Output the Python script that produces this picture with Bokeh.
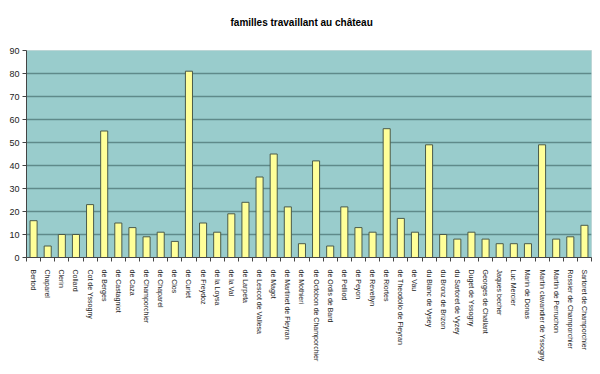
from bokeh.plotting import figure
from bokeh.models import FixedTicker, ColumnDataSource, Range1d, Title
from bokeh.embed import file_html
from bokeh.resources import INLINE

title_text = "familles travaillant au château"
names = ["Bertod", "Chaparel", "Clerin", "Collard", "Cot de Yssogny", "de Berges",
         "de Castagniot", "de Caza", "de Champorchier", "de Chaparel", "de Clos",
         "de Curiet", "de Freydoz", "de la Loysa", "de la Val", "de Larpeta",
         "de Lescot de Vallesa", "de Magot", "de Martinet de Fleyran", "de Mothieri",
         "de Octobon de Champorchier", "de Ordis de Bard", "de Pelliod", "de Peyon",
         "de Revellyn", "de Riortes", "de Theodollo de Fleyran", "de Vau",
         "du Blanc de Vysey", "du Bronz de Brizon", "du Sartoret de Vyzey",
         "Duget de Yssogny", "Georges de Challant", "Jaques becher", "Luc Mercier",
         "Marin de Donas", "Martin clavandier de Yssogny", "Martin de Perruchon",
         "Rossier de Champorchier", "Sartoret de Champorchier"]
counts = [16, 5, 10, 10, 23, 55, 15, 13, 9, 11, 7, 81, 15, 11, 19, 24, 35, 45, 22, 6,
          42, 5, 22, 13, 11, 56, 17, 11, 49, 10, 8, 11, 8, 6, 6, 6, 49, 8, 9, 14]
y_ticks = [0, 10, 20, 30, 40, 50, 60, 70, 80, 90]

n = len(names)
centers = [i + 0.5 for i in range(n)]
bounds = list(range(n + 1))
src = ColumnDataSource(dict(x=centers, top=counts))

FW, FH = 565, 207
p = figure(frame_width=FW, frame_height=FH, output_backend="svg", toolbar_location=None,
           x_range=Range1d(0, n), y_range=Range1d(0, 90),
           min_border_left=26, min_border_right=9, min_border_top=50, min_border_bottom=117)

# spacer between frame and title (pushes the title upward)
p.add_layout(Title(text=" ", text_font_size="10px", standoff=10), "above")
p.add_layout(Title(text=title_text, text_font="Liberation Sans", text_font_size="10px",
                   text_font_style="bold", text_color="#000000", align="left",
                   offset=204, standoff=0), "above")

p.background_fill_color = "#99CCCC"
p.border_fill_color = "white"
p.outline_line_color = "#bcd6d6"

p.vbar(x="x", top="top", width=0.5, bottom=0, source=src,
       fill_color="#FFFF99", line_color="#4a5a4a", line_width=1)

p.xgrid.visible = False
p.ygrid.ticker = FixedTicker(ticks=y_ticks)
p.ygrid.grid_line_color = "#5f8a8a"
p.ygrid.grid_line_width = 1.5

xa = p.xaxis[0]
xa.ticker = FixedTicker(ticks=centers, minor_ticks=bounds)
xa.major_label_overrides = {c: nm for c, nm in zip(centers, names)}
xa.major_label_orientation = "vertical"
xa.major_label_text_font = "Liberation Sans"
xa.major_label_text_font_size = "7px"
xa.major_label_text_color = "#1a1a1a"
xa.major_tick_line_color = None
xa.major_tick_out = 0
xa.minor_tick_in = 0
xa.minor_tick_out = 4
xa.minor_tick_line_color = "#444444"
xa.axis_line_color = "#444444"
xa.major_label_standoff = 8

ya = p.yaxis[0]
ya.ticker = FixedTicker(ticks=y_ticks)
ya.major_label_text_font = "Liberation Sans"
ya.major_label_text_font_size = "9px"
ya.major_label_text_color = "#222222"
ya.major_tick_in = 0
ya.major_tick_out = 4
ya.major_tick_line_color = "#444444"
ya.minor_tick_line_color = None
ya.axis_line_color = "#444444"
ya.major_label_standoff = 3

open("out.html", "w").write(file_html(p, INLINE))
